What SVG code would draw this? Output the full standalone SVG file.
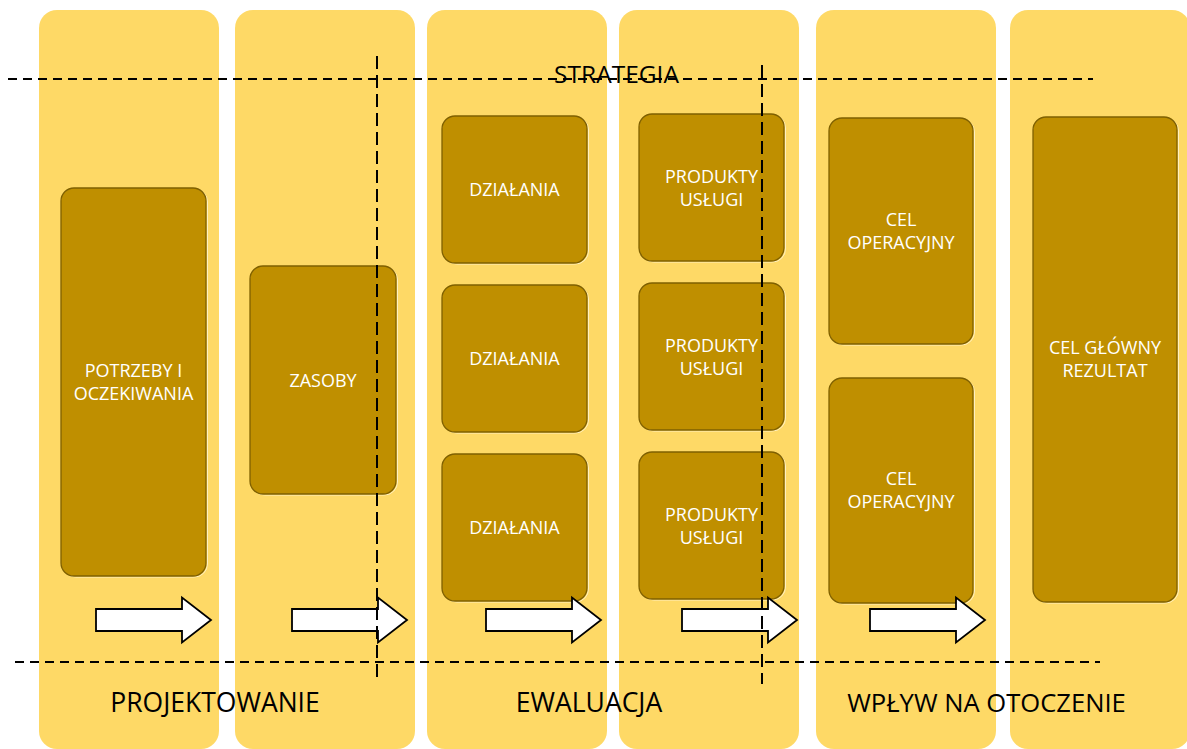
<svg xmlns="http://www.w3.org/2000/svg" width="1187" height="749" viewBox="0 0 1187 749">
<style>
.col{fill:#FED966;}
.box{fill:#BF8F00;stroke:#7F6000;stroke-width:1.3;}
.hl{fill:none;stroke:#FFF0C0;stroke-width:1;}
.bt{font-family:"Open Sans","Liberation Sans",sans-serif;font-size:18px;fill:#FFFFFF;text-anchor:middle;}
.lbl{font-family:"Open Sans","Liberation Sans",sans-serif;font-size:26.5px;fill:#000000;text-anchor:middle;}
.arrow{fill:#FFFFFF;stroke:#000000;stroke-width:1.8;stroke-linejoin:miter;}
.dh{fill:none;stroke:#000000;stroke-width:1.9;stroke-dasharray:9 6;}
.dv{fill:none;stroke:#000000;stroke-width:2;stroke-dasharray:13 6;}
</style>
<defs>
<path id="arr" d="M0,-11 H86 V-22.5 L115,0 L86,22.5 V11 H0 Z"/>
</defs>
<rect width="1187" height="749" fill="#FFFFFF"/>
<g id="columns">
<rect class="col" x="39" y="10" width="180" height="739" rx="18"/>
<rect class="col" x="235" y="10" width="180" height="739" rx="18"/>
<rect class="col" x="427" y="10" width="180" height="739" rx="18"/>
<rect class="col" x="619" y="10" width="180" height="739" rx="18"/>
<rect class="col" x="816" y="10" width="180" height="739" rx="18"/>
<rect class="col" x="1010" y="10" width="180" height="739" rx="18"/>
</g>
<g id="node-potrzeby">
<rect class="hl" x="62.5" y="189" width="145" height="388" rx="13"/>
<rect class="box" x="61" y="188" width="145" height="388" rx="13"/>
<text class="bt" x="133.5" y="377">POTRZEBY I</text>
<text class="bt" x="133.5" y="400">OCZEKIWANIA</text>
</g>
<g id="node-zasoby">
<rect class="hl" x="251.5" y="267" width="146" height="228" rx="13"/>
<rect class="box" x="250" y="266" width="146" height="228" rx="13"/>
<text class="bt" x="323" y="387">ZASOBY</text>
</g>
<g id="node-dzialania1">
<rect class="hl" x="443.5" y="117" width="145" height="147" rx="13"/>
<rect class="box" x="442" y="116" width="145" height="147" rx="13"/>
<text class="bt" x="514.5" y="196">DZIAŁANIA</text>
</g>
<g id="node-dzialania2">
<rect class="hl" x="443.5" y="286" width="145" height="147" rx="13"/>
<rect class="box" x="442" y="285" width="145" height="147" rx="13"/>
<text class="bt" x="514.5" y="365">DZIAŁANIA</text>
</g>
<g id="node-dzialania3">
<rect class="hl" x="443.5" y="455" width="145" height="147" rx="13"/>
<rect class="box" x="442" y="454" width="145" height="147" rx="13"/>
<text class="bt" x="514.5" y="534">DZIAŁANIA</text>
</g>
<g id="node-produkty1">
<rect class="hl" x="640.5" y="115" width="145" height="147" rx="13"/>
<rect class="box" x="639" y="114" width="145" height="147" rx="13"/>
<text class="bt" x="711.5" y="183">PRODUKTY</text>
<text class="bt" x="711.5" y="206">USŁUGI</text>
</g>
<g id="node-produkty2">
<rect class="hl" x="640.5" y="284" width="145" height="147" rx="13"/>
<rect class="box" x="639" y="283" width="145" height="147" rx="13"/>
<text class="bt" x="711.5" y="352">PRODUKTY</text>
<text class="bt" x="711.5" y="375">USŁUGI</text>
</g>
<g id="node-produkty3">
<rect class="hl" x="640.5" y="453" width="145" height="147" rx="13"/>
<rect class="box" x="639" y="452" width="145" height="147" rx="13"/>
<text class="bt" x="711.5" y="521">PRODUKTY</text>
<text class="bt" x="711.5" y="544">USŁUGI</text>
</g>
<g id="node-cel-op1">
<rect class="hl" x="830.5" y="119" width="144" height="226" rx="13"/>
<rect class="box" x="829" y="118" width="144" height="226" rx="13"/>
<text class="bt" x="901" y="226">CEL</text>
<text class="bt" x="901" y="249">OPERACYJNY</text>
</g>
<g id="node-cel-op2">
<rect class="hl" x="830.5" y="379" width="144" height="225" rx="13"/>
<rect class="box" x="829" y="378" width="144" height="225" rx="13"/>
<text class="bt" x="901" y="485">CEL</text>
<text class="bt" x="901" y="508">OPERACYJNY</text>
</g>
<g id="node-cel-glowny">
<rect class="hl" x="1034.5" y="118" width="144" height="485" rx="13"/>
<rect class="box" x="1033" y="117" width="144" height="485" rx="13"/>
<text class="bt" x="1105" y="354">CEL GŁÓWNY</text>
<text class="bt" x="1105" y="377">REZULTAT</text>
</g>
<g id="connectors">
<use href="#arr" class="arrow" x="96" y="620"/>
<use href="#arr" class="arrow" x="292" y="620"/>
<use href="#arr" class="arrow" x="486" y="620"/>
<use href="#arr" class="arrow" x="682" y="620"/>
<use href="#arr" class="arrow" x="870" y="620"/>
<line class="dh" x1="8" y1="79" x2="1093" y2="79"/>
<line class="dh" x1="15" y1="662" x2="1100" y2="662"/>
<line class="dv" x1="377" y1="56" x2="377" y2="683"/>
<line class="dv" x1="762" y1="65" x2="762" y2="684"/>
</g>
<g id="labels">
<text class="lbl" x="616.5" y="82.5" style="font-size:24.5px">STRATEGIA</text>
<text class="lbl" x="215" y="712">PROJEKTOWANIE</text>
<text class="lbl" x="589" y="712">EWALUACJA</text>
<text class="lbl" x="986.5" y="712" style="font-size:25.6px">WPŁYW NA OTOCZENIE</text>
</g>
</svg>
